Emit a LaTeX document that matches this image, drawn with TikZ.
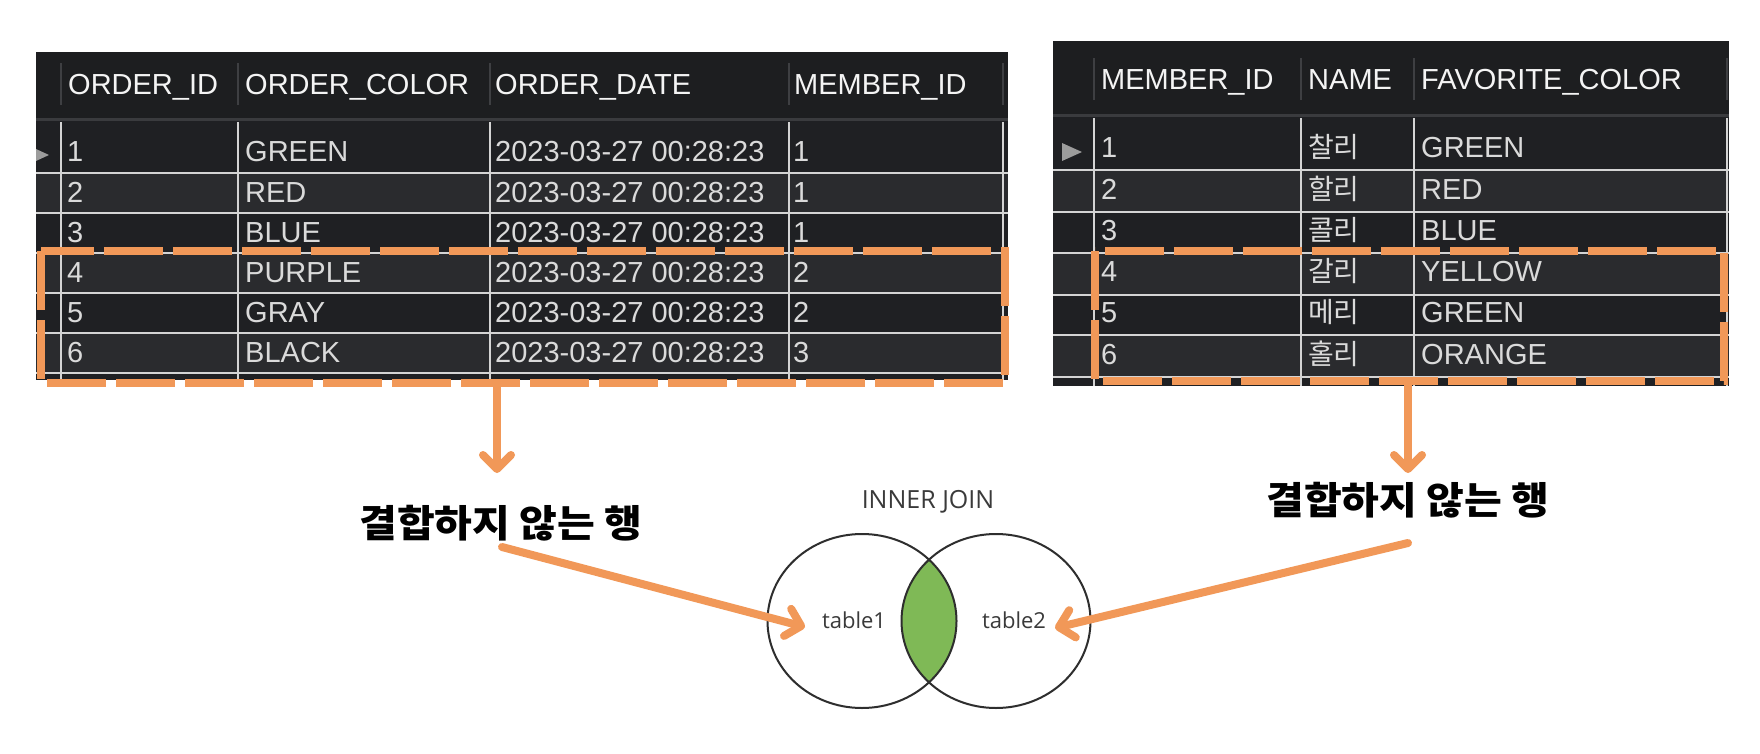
\documentclass[tikz,border=0pt]{standalone}
\usepackage{fontspec}
\setmainfont{Liberation Sans}
\newfontfamily\kr{Noto Sans CJK KR}
\newfontfamily\krlab{Noto Sans CJK KR}[FakeStretch=1.08]
\newfontfamily\os{Open Sans}
\usetikzlibrary{arrows.meta}
\definecolor{tdark}{HTML}{1F2023}
\definecolor{thead}{HTML}{1D1E20}
\definecolor{tlight}{HTML}{2A2B2E}
\definecolor{gridc}{HTML}{D4D4D4}
\definecolor{hsepc}{HTML}{3E3F42}
\definecolor{hbotc}{HTML}{3A3B3E}
\definecolor{celltxt}{HTML}{DADADA}
\definecolor{hdrtxt}{HTML}{F4F4F4}
\definecolor{tri}{HTML}{9C9C9C}
\definecolor{jorange}{HTML}{F19858}
\definecolor{vgreen}{HTML}{7FB956}
\definecolor{venc}{HTML}{2E2E2E}
\definecolor{vtxt}{HTML}{3A3A3A}
\begin{document}
\begin{tikzpicture}[x=1pt,y=-1pt,
  cell/.style={anchor=base west,inner sep=0pt,text=celltxt,font=\fontsize{29}{34}\selectfont},
  krcell/.style={anchor=base west,inner sep=0pt,text=celltxt,font=\kr\fontsize{28}{32}\selectfont},
  hdr/.style={anchor=base west,inner sep=0pt,text=hdrtxt,font=\fontsize{29}{34}\selectfont},
  grid/.style={draw=gridc,line width=2.5pt},
  hsep/.style={draw=hsepc,line width=2pt},
  hbot/.style={draw=hbotc,line width=3pt},
  dashbox/.style={draw=jorange,line width=8pt,dash pattern=on 59pt off 10pt},
  arr/.style={draw=jorange,line width=8pt,line cap=round,-{Straight Barb[round,length=14pt,width=28pt]}},
  lab/.style={font=\krlab\bfseries\fontsize{38}{44}\selectfont,inner sep=0pt,text=black},
  venn/.style={draw=venc,line width=2pt},
  vlab/.style={anchor=base,inner sep=0pt,text=vtxt}
]
\useasboundingbox (0,0) rectangle (1760,754);
\fill[white] (0,0) rectangle (1760,754);

% ---------- left table ----------
\fill[tdark] (36,52) rectangle (1008,380);
\fill[thead] (36,52) rectangle (1008,120);
\foreach \t/\b in {173/213,253/293,333/373} \fill[tlight] (36,\t) rectangle (1008,\b);
\draw[hbot] (36,120) -- (1008,120);
\foreach \y in {173,213,253,293,333,373} \draw[grid] (36,\y) -- (1008,\y);
\foreach \x in {61,238,490,789,1003} {\draw[grid] (\x,122) -- (\x,380); \draw[hsep] (\x,63) -- (\x,105);}
\fill[tri] (36,149) -- (49,155) -- (36,161) -- cycle;
\node[hdr] (lh1) at (68,95) {ORDER\_ID};
\node[hdr] (lh2) at (245,95) {ORDER\_COLOR};
\node[hdr] (lh3) at (495,95) {ORDER\_DATE};
\node[hdr] (lh4) at (794,95) {MEMBER\_ID};
\foreach \i/\col/\m [evaluate=\i as \yb using 162+40*(\i-1)] in {1/GREEN/1,2/RED/1,3/BLUE/1,4/PURPLE/2,5/GRAY/2,6/BLACK/3} {
  \node[cell] (lid\i) at (67,\yb) {\i};
  \node[cell] (lcol\i) at (245,\yb) {\col};
  \node[cell] (ldate\i) at (495,\yb) {2023-03-27 00:28:23};
  \node[cell] (lmem\i) at (793,\yb) {\m};
}

% ---------- right table ----------
\fill[tdark] (1053,41) rectangle (1729,386);
\fill[thead] (1053,41) rectangle (1729,116);
\foreach \t/\b in {170/212,253/295,335/377} \fill[tlight] (1053,\t) rectangle (1729,\b);
\draw[hbot] (1053,116) -- (1729,116);
\foreach \y in {170,212,253,295,335,377} \draw[grid] (1053,\y) -- (1729,\y);
\foreach \x in {1094,1301,1414,1727} {\draw[grid] (\x,118) -- (\x,386); \draw[hsep] (\x,58) -- (\x,100);}
\fill[tri] (1062,143) -- (1082,152) -- (1062,161) -- cycle;
\node[hdr] (rh1) at (1101,90) {MEMBER\_ID};
\node[hdr] (rh2) at (1308,90) {NAME};
\node[hdr] (rh3) at (1421,90) {FAVORITE\_COLOR};
\foreach \i/\nm/\col [evaluate=\i as \yb using 158+41.2*(\i-1)] in {1/찰리/GREEN,2/할리/RED,3/콜리/BLUE,4/갈리/YELLOW,5/메리/GREEN,6/홀리/ORANGE} {
  \node[cell] (rid\i) at (1101,\yb) {\i};
  \node[krcell] (rnm\i) at (1308,\yb) {\nm};
  \node[cell] (rcol\i) at (1421,\yb) {\col};
}

% ---------- dashed selections ----------
\draw[dashbox] (41,251) rectangle (1005,383);
\draw[dashbox] (1095,251) rectangle (1724,381);

% ---------- venn ----------
\begin{scope}
  \clip (862,621) ellipse [x radius=94.5, y radius=87];
  \fill[vgreen] (996,621) ellipse [x radius=94.5, y radius=87];
\end{scope}
\draw[venn] (862,621) ellipse [x radius=94.5, y radius=87];
\draw[venn] (996,621) ellipse [x radius=94.5, y radius=87];
\node[vlab,font=\os\fontsize{25}{30}\selectfont] (ij) at (928,508) {INNER JOIN};
\node[vlab,font=\os\fontsize{22}{26}\selectfont] (tb1) at (854,628) {table1};
\node[vlab,font=\os\fontsize{22}{26}\selectfont] (tb2) at (1014,628) {table2};

% ---------- labels ----------
\node[lab] (lab1) at (501,523) {결합하지 않는 행};
\node[lab] (lab2) at (1408,500) {결합하지 않는 행};

% ---------- arrows ----------
\coordinate (d1s) at (497,387);
\coordinate (d1e) at (497,473);
\coordinate (d2s) at (1408,385);
\coordinate (d2e) at (1408,473);
\coordinate (a1s) at (502,547);
\coordinate (a1e) at (805,627);
\coordinate (a2s) at (1408,543);
\coordinate (a2e) at (1055,628);
\draw[arr] (d1s) -- (d1e);
\draw[arr] (d2s) -- (d2e);
\draw[arr] (a1s) -- (a1e);
\draw[arr] (a2s) -- (a2e);
\end{tikzpicture}
\end{document}
